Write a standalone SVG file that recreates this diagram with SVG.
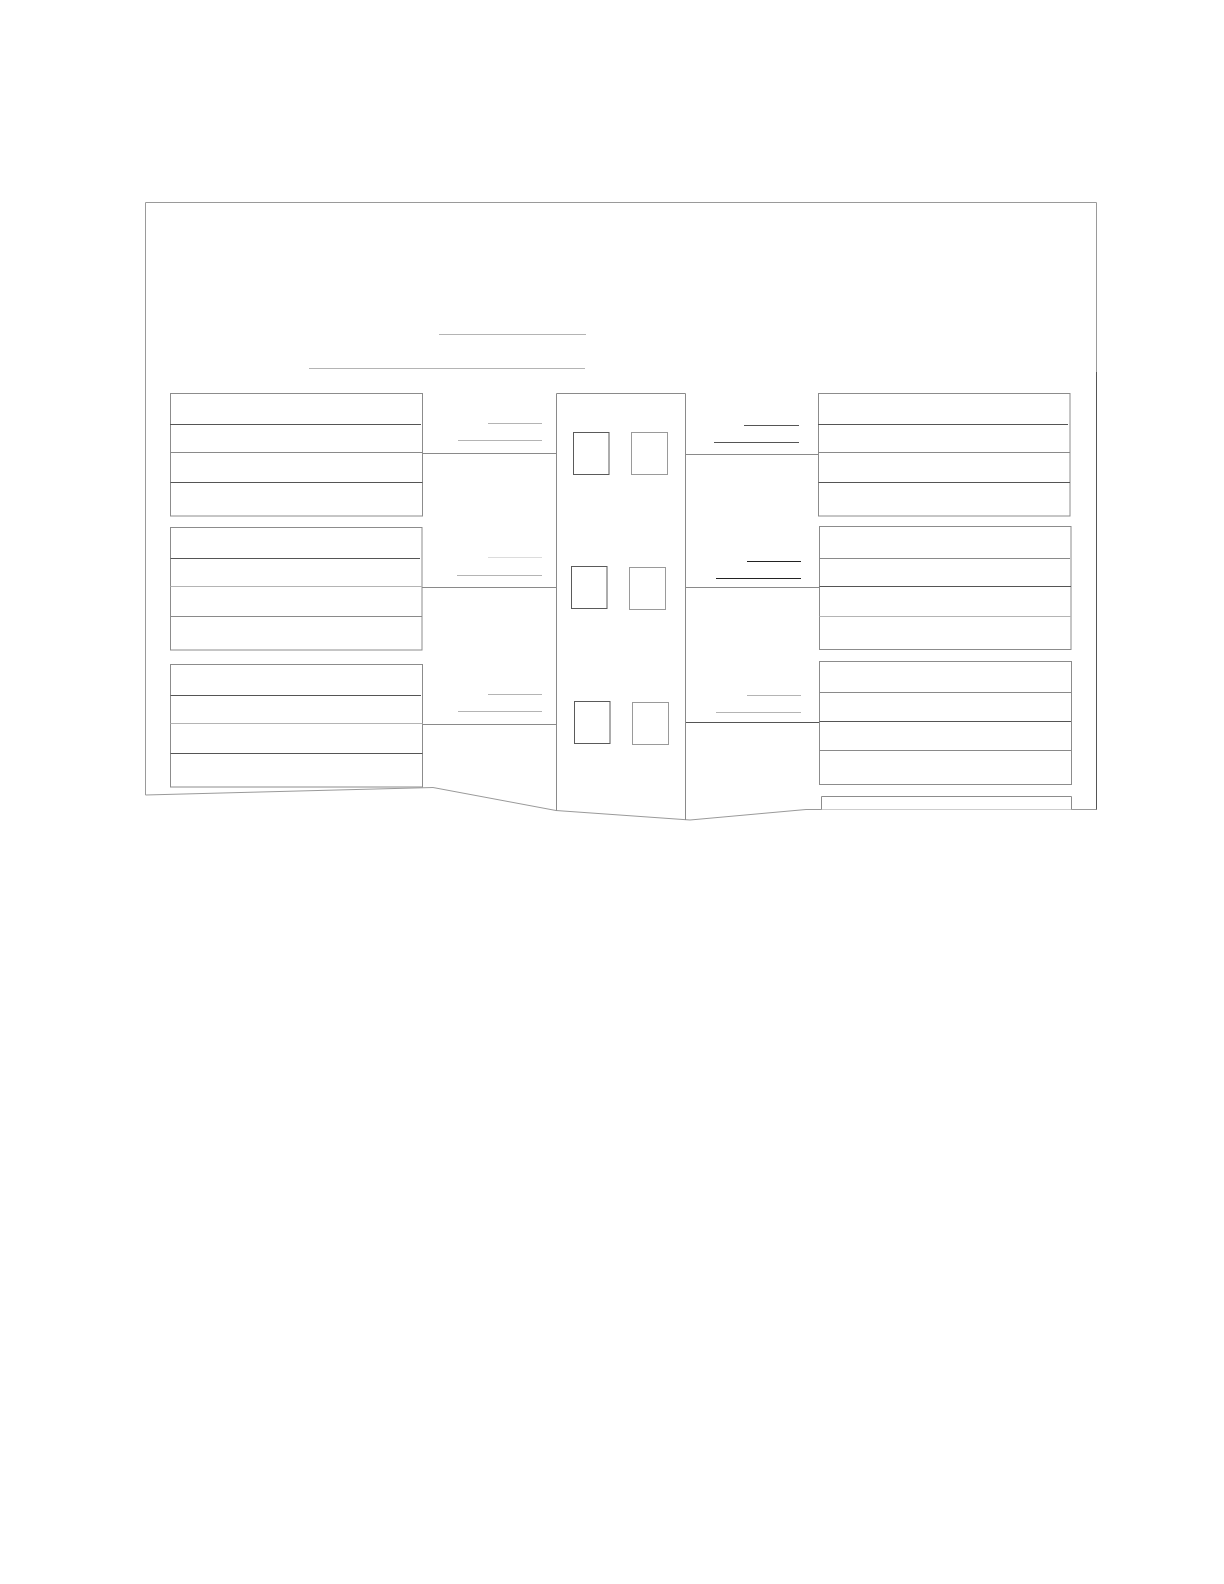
<svg xmlns="http://www.w3.org/2000/svg" width="1224" height="1584" viewBox="0 0 1224 1584">
<style>
.bg{fill:#ffffff}
.fr{fill:none;stroke:#9a9a9a;stroke-width:1}
.bx{fill:#ffffff;stroke:#8c8c8c;stroke-width:1}
.dk{stroke:#555555;stroke-width:1;fill:none}
.md{stroke:#8a8a8a;stroke-width:1;fill:none}
.lt{stroke:#b4b4b4;stroke-width:1;fill:none}
.vl{stroke:#dcdcdc;stroke-width:1;fill:none}
.bk{stroke:#222222;stroke-width:1;fill:none}
.wd{fill:#ffffff;stroke:#5a5a5a;stroke-width:1}
.wl{fill:#ffffff;stroke:#9a9a9a;stroke-width:1}
</style>
<rect class="bg" x="0" y="0" width="1224" height="1584"/>
<g id="frame">
<path class="fr" d="M145.5,795 L145.5,202.5 L1096.5,202.5 L1096.5,809.5 L806,809.5 L690,820 L556,810.5 L433,787.5 Z"/>
<line class="dk" x1="1096.5" y1="372" x2="1096.5" y2="809.5"/>
<line class="lt" x1="439" y1="334.5" x2="586" y2="334.5"/>
<line class="lt" x1="309" y1="368.5" x2="585" y2="368.5"/>
</g>
<g id="connectors">
<line class="md" x1="423" y1="453.5" x2="556" y2="453.5"/>
<line class="md" x1="685" y1="454.5" x2="819" y2="454.5"/>
<line class="md" x1="422" y1="587.5" x2="556" y2="587.5"/>
<line class="md" x1="685" y1="587.5" x2="819" y2="587.5"/>
<line class="md" x1="423" y1="724.5" x2="556" y2="724.5"/>
<line class="dk" x1="685" y1="722.5" x2="819" y2="722.5"/>
<line class="lt" x1="488" y1="423.5" x2="542" y2="423.5"/>
<line class="lt" x1="458" y1="440.5" x2="542" y2="440.5"/>
<line class="dk" x1="744" y1="425.5" x2="799" y2="425.5"/>
<line class="dk" x1="714" y1="442.5" x2="799" y2="442.5"/>
<line class="vl" x1="488" y1="557.5" x2="542" y2="557.5"/>
<line class="lt" x1="457" y1="575.5" x2="542" y2="575.5"/>
<line class="bk" x1="747" y1="561.5" x2="801" y2="561.5"/>
<line class="bk" x1="716" y1="578.5" x2="801" y2="578.5"/>
<line class="lt" x1="488" y1="694.5" x2="542" y2="694.5"/>
<line class="lt" x1="458" y1="711.5" x2="542" y2="711.5"/>
<line class="lt" x1="747" y1="695.5" x2="801" y2="695.5"/>
<line class="lt" x1="716" y1="712.5" x2="801" y2="712.5"/>
</g>
<g id="building">
<line class="md" x1="556.5" y1="393.5" x2="556.5" y2="810.5"/>
<line class="md" x1="685.5" y1="393.5" x2="685.5" y2="820"/>
<line class="md" x1="556.5" y1="393.5" x2="685.5" y2="393.5"/>
<rect class="wd" x="573.5" y="432.5" width="35.5" height="42"/>
<rect class="wl" x="631.5" y="432.5" width="36" height="42"/>
<rect class="wd" x="571.5" y="566.5" width="35.5" height="42"/>
<rect class="wl" x="629.5" y="567.5" width="36" height="42"/>
<rect class="wd" x="574.5" y="701.5" width="35.5" height="42"/>
<rect class="wl" x="632.5" y="702.5" width="36" height="42"/>
</g>
<g id="left-box-1">
<rect class="bx" x="170.5" y="393.5" width="252" height="122.5"/>
<line class="dk" x1="170" y1="424.5" x2="421" y2="424.5"/>
<line class="md" x1="170.5" y1="452.5" x2="422.5" y2="452.5"/>
<line class="dk" x1="170.5" y1="482.5" x2="422.5" y2="482.5"/>
</g>
<g id="left-box-2">
<rect class="bx" x="170.5" y="527.5" width="251.5" height="122.5"/>
<line class="dk" x1="170.5" y1="558.5" x2="420" y2="558.5"/>
<line class="lt" x1="170.5" y1="586.5" x2="422" y2="586.5"/>
<line class="md" x1="170.5" y1="616.5" x2="422" y2="616.5"/>
</g>
<g id="left-box-3">
<rect class="bx" x="170.5" y="664.5" width="252" height="122.5"/>
<line class="dk" x1="170.5" y1="695.5" x2="421" y2="695.5"/>
<line class="lt" x1="170.5" y1="723.5" x2="422.5" y2="723.5"/>
<line class="dk" x1="170.5" y1="753.5" x2="422.5" y2="753.5"/>
</g>
<g id="right-box-1">
<rect class="bx" x="818.5" y="393.5" width="251.5" height="122.5"/>
<line class="dk" x1="818" y1="424.5" x2="1068" y2="424.5"/>
<line class="md" x1="818.5" y1="452.5" x2="1070" y2="452.5"/>
<line class="dk" x1="818.5" y1="482.5" x2="1070" y2="482.5"/>
</g>
<g id="right-box-2">
<rect class="bx" x="819.5" y="526.5" width="251.5" height="123"/>
<line class="md" x1="819.5" y1="558.5" x2="1070" y2="558.5"/>
<line class="dk" x1="819.5" y1="586.5" x2="1071" y2="586.5"/>
<line class="lt" x1="819.5" y1="616.5" x2="1071" y2="616.5"/>
</g>
<g id="right-box-3">
<rect class="bx" x="819.5" y="661.5" width="252" height="123"/>
<line class="md" x1="819.5" y1="692.5" x2="1071" y2="692.5"/>
<line class="dk" x1="819.5" y1="721.5" x2="1071" y2="721.5"/>
<line class="md" x1="819.5" y1="750.5" x2="1071" y2="750.5"/>
</g>
<g id="right-box-4">
<path class="bx" d="M821.5,809.5 L821.5,796.5 L1071.5,796.5 L1071.5,809.5"/>
</g>
</svg>
